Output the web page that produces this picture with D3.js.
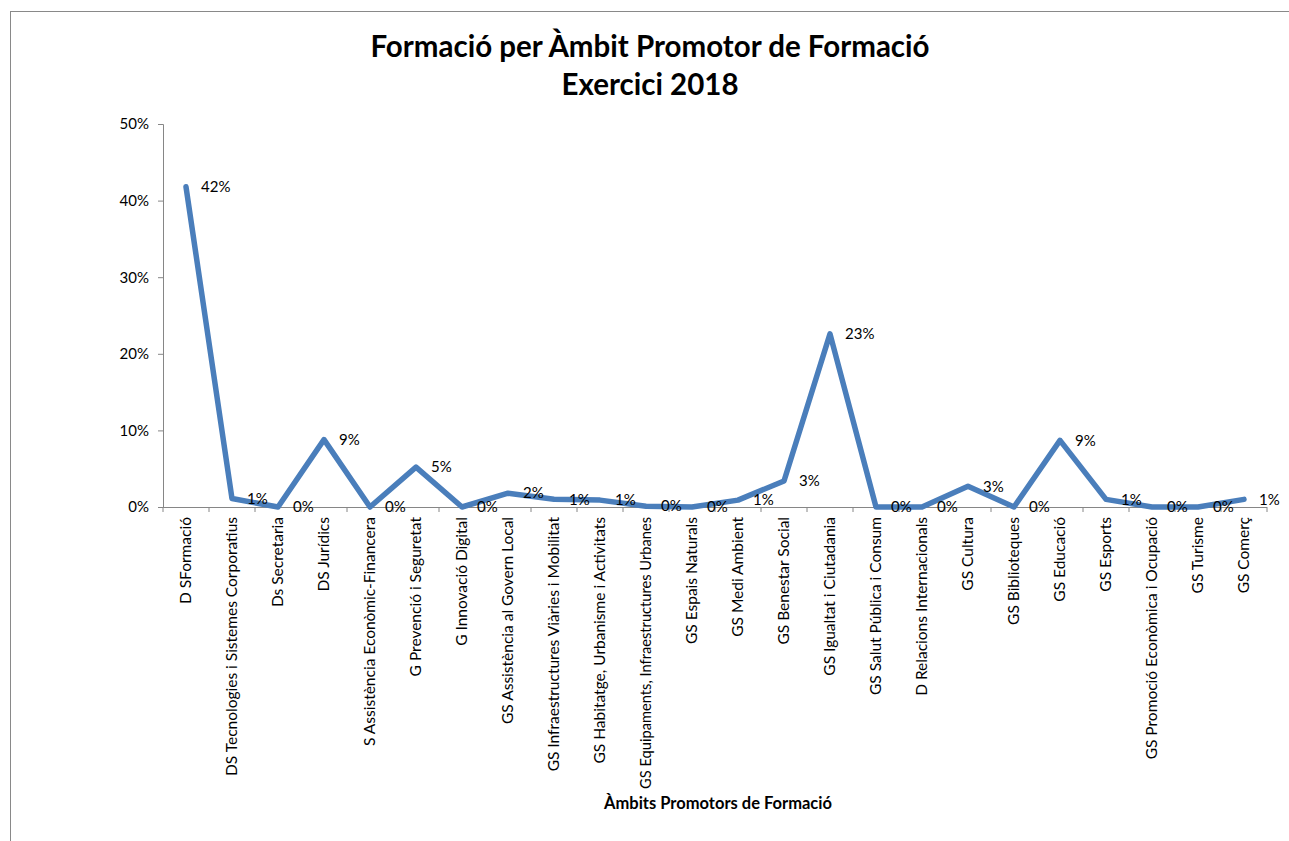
<!DOCTYPE html>
<html><head><meta charset="utf-8">
<script src="https://cdn.jsdelivr.net/npm/d3@7"></script>
<style>body{margin:0;background:#fff;} text{font-family:Lato,"Open Sans",sans-serif;}</style>
</head><body>
<svg id="c" width="1289" height="841"></svg>
<script>
const titleLines = ["Formació per Àmbit Promotor de Formació", "Exercici 2018"];
const xTitle = "Àmbits Promotors de Formació";
const categories = [
  "D SFormació","DS Tecnologies i Sistemes Corporatius","Ds Secretaria","DS Jurídics",
  "S Assistència Econòmic-Financera","G Prevenció i Seguretat","G Innovació Digital",
  "GS Assistència al Govern Local","GS Infraestructures Viàries i Mobilitat",
  "GS Habitatge, Urbanisme i Activitats","GS Equipaments, Infraestructures Urbanes",
  "GS Espais Naturals","GS Medi Ambient","GS Benestar Social","GS Igualtat i Ciutadania",
  "GS Salut Pública i Consum","D Relacions Internacionals","GS Cultura","GS Biblioteques",
  "GS Educació","GS Esports","GS Promoció Econòmica i Ocupació","GS Turisme","GS Comerç"
];
const values = [0.418,0.011,0.000,0.088,0.000,0.052,0.000,0.018,0.010,0.009,0.001,0.000,
  0.009,0.034,0.226,0.000,0.000,0.027,0.000,0.087,0.010,0.000,0.000,0.010];
const yTicks = [0,0.1,0.2,0.3,0.4,0.5];

(function(){
const svg = d3.select("#c");
svg.append("rect").attr("x",10.5).attr("y",11.5).attr("width",1300).attr("height",900)
  .attr("fill","none").attr("stroke","#898989").attr("stroke-width",1);

const pL=163, pR=1267, pT=124, pB=507;
const x = d3.scaleBand().domain(categories).range([pL,pR]).paddingInner(0).paddingOuter(0);
const y = d3.scaleLinear().domain([0,0.5]).range([pB,pT]);

svg.append("text").attr("x",650).attr("y",57).attr("text-anchor","middle")
  .attr("font-size",29.5).attr("font-weight","bold").attr("fill","#000").text(titleLines[0]);
svg.append("text").attr("x",650).attr("y",95).attr("text-anchor","middle")
  .attr("font-size",29.5).attr("font-weight","bold").attr("fill","#000").text(titleLines[1]);

const yAxis = d3.axisLeft(y).tickValues(yTicks).tickFormat(d3.format(".0%")).tickSizeOuter(0).tickSize(5).tickPadding(9);
const gy = svg.append("g").attr("transform",`translate(${pL},0)`).call(yAxis);
gy.selectAll("path,line").attr("stroke","#868686");
gy.selectAll("text").attr("font-size",15).attr("fill","#000").style("font-family","Lato");

const xAxis = d3.axisBottom(x).tickSize(0).tickFormat(d=>d);
const gx = svg.append("g").attr("transform",`translate(0,${pB})`).call(xAxis);
gx.select("path").attr("stroke","#868686").attr("d",`M${pL},0.5H${pR}`);
const maxLen = 272;
gx.selectAll(".tick text").attr("font-size",15.5).attr("fill","#000")
  .attr("text-anchor","end").attr("transform","rotate(-90)")
  .attr("x",-10).attr("y",0).attr("dy","0.35em").style("font-family","Lato")
  .each(function(){
    const L = this.getComputedTextLength();
    if (L > maxLen) d3.select(this).attr("textLength",maxLen).attr("lengthAdjust","spacingAndGlyphs");
  });
const bounds = categories.map(c=>x(c)).concat([pR]);
svg.append("g").selectAll("line").data(bounds).join("line")
  .attr("x1",d=>d).attr("x2",d=>d).attr("y1",pB).attr("y2",pB+5)
  .attr("stroke","#868686");

const line = d3.line().x((d,i)=>x(categories[i])+x.bandwidth()/2).y(d=>y(d));
svg.append("path").datum(values).attr("d",line).attr("fill","none")
  .attr("stroke","#4A7EBB").attr("stroke-width",5.5).attr("stroke-linejoin","round").attr("stroke-linecap","round");

svg.append("g").selectAll("text").data(values).join("text")
  .attr("x",(d,i)=>x(categories[i])+x.bandwidth()/2+15)
  .attr("y",d=>y(d)).attr("dy","0.35em")
  .attr("font-size",15).attr("fill","#000")
  .text(d=>d3.format(".0%")(d));

svg.append("text").attr("x",718).attr("y",809).attr("text-anchor","middle")
  .attr("font-size",16.5).attr("font-weight","bold").attr("fill","#000").text(xTitle);
})();
</script>
</body></html>
